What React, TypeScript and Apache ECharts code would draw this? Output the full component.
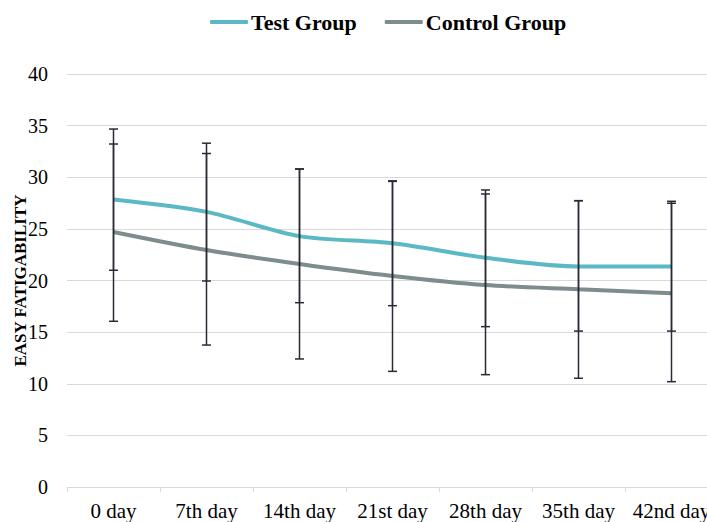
import React, { useEffect, useRef } from "react";
import * as echarts from "echarts";

const categories = ["0 day", "7th day", "14th day", "21st day", "28th day", "35th day", "42nd day"];
const testMeans = [27.85, 26.65, 24.3, 23.6, 22.2, 21.35, 21.35];
const testUpper = [34.67, 33.3, 30.8, 29.65, 28.77, 27.73, 27.67];
const testLower = [20.99, 19.95, 17.85, 17.56, 15.53, 15.1, 15.1];
const controlMeans = [24.7, 22.95, 21.6, 20.44, 19.56, 19.15, 18.77];
const controlUpper = [33.22, 32.3, 30.8, 29.6, 28.38, 27.73, 27.48];
const controlLower = [16.05, 13.75, 12.4, 11.2, 10.88, 10.53, 10.2];
const yTicks = [0, 5, 10, 15, 20, 25, 30, 35, 40];

const SERIF = "Liberation Serif";

export default function App() {
  const ref = useRef<HTMLDivElement>(null);
  useEffect(() => {
    if (!ref.current) return;
    const chart = echarts.init(ref.current, null, { renderer: "svg" });
    const errData = [
      ...categories.map((_, i) => [i, testLower[i], testUpper[i]]),
      ...categories.map((_, i) => [i, controlLower[i], controlUpper[i]]),
    ];
    const renderErr = (params: any, api: any) => {
      const x = api.value(0);
      const lo = api.coord([x, api.value(1)]);
      const hi = api.coord([x, api.value(2)]);
      const hw = 4.5;
      const style = { stroke: "#2a2a36", lineWidth: 1.5 };
      return {
        type: "group",
        children: [
          { type: "line", shape: { x1: lo[0], y1: lo[1], x2: hi[0], y2: hi[1] }, style },
          { type: "line", shape: { x1: lo[0] - hw, y1: lo[1], x2: lo[0] + hw, y2: lo[1] }, style },
          { type: "line", shape: { x1: hi[0] - hw, y1: hi[1], x2: hi[0] + hw, y2: hi[1] }, style },
        ],
      };
    };
    chart.setOption({
      animation: false,
      legend: {
        top: 6,
        left: 205,
        itemWidth: 38,
        itemHeight: 4,
        itemGap: 28,
        icon: "roundRect",
        data: ["Test Group", "Control Group"],
        textStyle: { fontFamily: SERIF, fontWeight: "bold", fontSize: 22, color: "#000", padding: [0, 0, 0, -2] },
      },
      grid: { left: 67, right: 0, top: 74, bottom: 35, containLabel: false, outerBoundsMode: "none" },
      xAxis: {
        type: "category",
        data: categories,
        boundaryGap: true,
        axisLine: { lineStyle: { color: "#d9d9d9", width: 1 } },
        axisTick: { show: true, length: 5, lineStyle: { color: "#d9d9d9" } },
        axisLabel: { fontFamily: SERIF, fontSize: 21, color: "#000", margin: 13, interval: 0 },
      },
      yAxis: {
        type: "value",
        min: yTicks[0],
        max: yTicks[yTicks.length - 1],
        interval: 5,
        name: "EASY FATIGABILITY",
        nameLocation: "middle",
        nameGap: 38,
        nameMoveOverlap: false,
        nameRotate: 90,
        nameTextStyle: { fontFamily: SERIF, fontWeight: "bold", fontSize: 17, color: "#000" },
        axisLine: { show: false },
        axisTick: { show: false },
        splitLine: { lineStyle: { color: "#d9d9d9", width: 1 } },
        axisLabel: { fontFamily: SERIF, fontSize: 20, color: "#000", margin: 19 },
      },
      series: [
        {
          name: "Test Group",
          type: "line",
          data: testMeans,
          smooth: 0.3,
          symbol: "none",
          lineStyle: { color: "#5bb9c5", width: 4 },
          itemStyle: { color: "#5bb9c5" },
          z: 2,
        },
        {
          name: "Control Group",
          type: "line",
          data: controlMeans,
          smooth: 0.3,
          symbol: "none",
          lineStyle: { color: "#7e8c8d", width: 4 },
          itemStyle: { color: "#7e8c8d" },
          z: 2,
        },
        {
          type: "custom",
          renderItem: renderErr,
          data: errData,
          encode: { x: 0, y: [1, 2] },
          z: 5,
          silent: true,
        },
      ],
    });
    return () => chart.dispose();
  }, []);
  return (
    <div style={{ position: "absolute", left: 0, top: 0, width: 707, height: 522, overflow: "hidden", background: "#fff" }}>
      <div ref={ref} style={{ width: 718, height: 522 }} />
    </div>
  );
}
